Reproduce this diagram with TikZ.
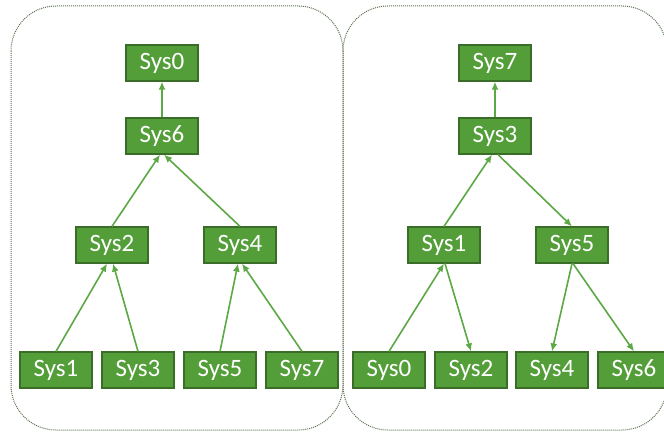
\documentclass[tikz,border=0pt]{standalone}
\usepackage{fontspec}
\setmainfont{Carlito}
\usetikzlibrary{arrows.meta}
\definecolor{boxfill}{RGB}{84,158,58}
\definecolor{boxline}{RGB}{58,110,40}
\definecolor{linkcol}{RGB}{92,168,68}
\definecolor{panelcol}{RGB}{92,112,82}
\tikzset{
  sysbox/.style={draw=boxline, line width=1.2pt, fill=boxfill, text=white,
    minimum width=72pt, minimum height=36pt, inner sep=0pt,
    font=\fontsize{25}{28}\selectfont},
  link/.style={draw=linkcol, line width=1.6pt,
    -{Latex[length=8pt,width=7pt]}},
  panel/.style={draw=panelcol, densely dotted, line width=1pt, rounded corners=45pt}
}
\begin{document}
\begin{tikzpicture}[x=1pt,y=-1pt]
\useasboundingbox (0,0) rectangle (664,433);
\begin{scope}
\clip (0,0) rectangle (664,433);
% two group outlines
\draw[panel] (11,6) rectangle (343,430);
\draw[panel] (343,6) rectangle (667,430);

% left tree
\node[sysbox] (a0) at (162,63) {Sys0};
\node[sysbox] (a6) at (162,136) {Sys6};
\node[sysbox] (a2) at (112,245) {Sys2};
\node[sysbox] (a4) at (240,245) {Sys4};
\node[sysbox] (a1) at (56,370) {Sys1};
\node[sysbox] (a3) at (138,370) {Sys3};
\node[sysbox] (a5) at (220,370) {Sys5};
\node[sysbox] (a7) at (302,370) {Sys7};

\draw[link] (a6.north) -- (a0.south);
\draw[link] (a2.north) -- ([xshift=-2pt]a6.south);
\draw[link] (a4.north) -- ([xshift=2pt]a6.south);
\draw[link] (a1.north) -- ([xshift=-5pt]a2.south);
\draw[link] (a3.north) -- ([xshift=1pt]a2.south);
\draw[link] (a5.north) -- ([xshift=-2pt]a4.south);
\draw[link] (a7.north) -- ([xshift=2pt]a4.south);

% right tree
\node[sysbox] (b7) at (495,63) {Sys7};
\node[sysbox] (b3) at (495,136) {Sys3};
\node[sysbox] (b1) at (444,245) {Sys1};
\node[sysbox] (b5) at (572,245) {Sys5};
\node[sysbox] (b0) at (389,370) {Sys0};
\node[sysbox] (b2) at (471,370) {Sys2};
\node[sysbox] (b4) at (552,370) {Sys4};
\node[sysbox] (b6) at (634,370) {Sys6};

\draw[link] (b3.north) -- (b7.south);
\draw[link] (b1.north) -- ([xshift=-3pt]b3.south);
\draw[link] ([xshift=3pt]b3.south) -- (b5.north);
\draw[link] (b0.north) -- (b1.south);
\draw[link] ([xshift=1pt]b1.south) -- (b2.north);
\draw[link] (b5.south) -- (b4.north);
\draw[link] ([xshift=1pt]b5.south) -- (b6.north);
\end{scope}
\end{tikzpicture}
\end{document}
